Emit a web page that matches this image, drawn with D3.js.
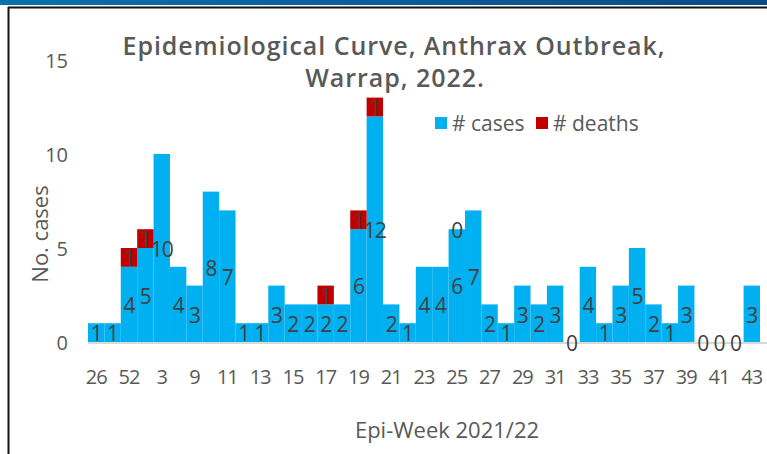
<!DOCTYPE html>
<html><head><meta charset="utf-8">
<script src="https://cdn.jsdelivr.net/npm/d3@7"></script>
<style>
html,body{margin:0;padding:0;background:#fff;}
svg{display:block;}
</style></head>
<body>
<svg id="chart" width="767" height="454"></svg>
<script>
// Epi-weeks (only every other one is labelled on the axis)
const weeks = ["26","27","52","1","3","5","9","10","11","12","13","14","15","16","17","18","19","20","21","22","23","24","25","26","27","28","29","30","31","32","33","34","35","36","37","38","39","40","41","42","43"];
const cases = [1,1,4,5,10,4,3,8,7,1,1,3,2,2,2,2,6,12,2,1,4,4,6,7,2,1,3,2,3,0,4,1,3,5,2,1,3,0,0,0,3];
const deaths = [null,null,1,1,null,null,null,null,null,null,null,null,null,null,1,null,1,1,null,null,null,null,0,null,null,null,null,null,null,null,null,null,null,null,null,null,null,null,null,null,null];
const yTicks = [0,5,10,15];
const seriesNames = ["# cases","# deaths"];
const colors = ["#00B0F0","#C00000"];

const svg = d3.select("#chart");
const W = 767, H = 454;
const font = "'Open Sans', sans-serif";
const grey = "#595959";

// frame
const grad = svg.append("defs").append("linearGradient").attr("id","g").attr("x1","0").attr("x2","1");
grad.append("stop").attr("offset","0").attr("stop-color","#0a6fb0");
grad.append("stop").attr("offset","1").attr("stop-color","#0a4a88");
svg.append("rect").attr("x",0).attr("y",0).attr("width",W).attr("height",5).attr("fill","url(#g)");
svg.append("line").attr("x1",8).attr("x2",W).attr("y1",7.5).attr("y2",7.5).attr("stroke","#111").attr("stroke-width",2);
svg.append("line").attr("x1",8.5).attr("x2",8.5).attr("y1",7).attr("y2",H).attr("stroke","#111").attr("stroke-width",2);

const x = d3.scaleBand().domain(d3.range(cases.length)).range([88, 760]).padding(0);
const y = d3.scaleLinear().domain([0,15]).range([342, 60]);

// bars
const g = svg.append("g");
g.selectAll("rect.c").data(cases).join("rect")
  .attr("x",(d,i)=>x(i)).attr("width",x.bandwidth())
  .attr("y",d=>y(d)).attr("height",d=>y(0)-y(d)).attr("fill",colors[0]);
g.selectAll("rect.d").data(deaths).join("rect")
  .attr("x",(d,i)=>x(i)).attr("width",x.bandwidth())
  .attr("y",(d,i)=>y(cases[i]+(d||0))).attr("height",(d,i)=>y(cases[i])-y(cases[i]+(d||0))).attr("fill",colors[1]);

// axis line
svg.append("line").attr("x1",88).attr("x2",767).attr("y1",y(0)+1).attr("y2",y(0)+1).attr("stroke","#d9d9d9").attr("stroke-width",2);

// y axis
const yAxis = d3.axisLeft(y).tickValues(yTicks).tickSize(0).tickPadding(0);
const ya = svg.append("g").attr("transform","translate(68,0)").call(yAxis);
ya.select(".domain").remove();
ya.selectAll("text").attr("font-family",font).attr("font-size",20).attr("fill",grey).attr("dy","0.35em");

// x axis
const xAxis = d3.axisBottom(x).tickValues(d3.range(0,cases.length,2)).tickFormat(i=>weeks[i]).tickSize(0).tickPadding(0);
const xa = svg.append("g").attr("transform",`translate(0,${y(0)+28})`).call(xAxis);
xa.select(".domain").remove();
xa.selectAll("text").attr("font-family",font).attr("font-size",20).attr("fill",grey).attr("dy","0.7em").attr("letter-spacing","-1px");

// data labels
const lab = svg.append("g").attr("font-family",font).attr("font-size",21).attr("fill","#404040").attr("text-anchor","middle").attr("letter-spacing","-1px");
lab.selectAll("text.c").data(cases).join("text")
  .attr("x",(d,i)=>x(i)+x.bandwidth()/2).attr("y",d=>(y(0)+y(d))/2).attr("dy","0.42em").text(d=>d);
lab.selectAll("text.d").data(deaths.map((d,i)=>({d,i})).filter(o=>o.d!==null)).join("text")
  .attr("x",o=>x(o.i)+x.bandwidth()/2).attr("y",o=>(y(cases[o.i])+y(cases[o.i]+o.d))/2).attr("dy","0.42em").text(o=>o.d);

// title
const t = svg.append("text").attr("font-family",font).attr("font-weight",600).attr("font-size",25).attr("fill",grey).attr("text-anchor","middle");
const t1 = t.append("tspan").attr("x",394).attr("y",55).text("Epidemiological Curve, Anthrax Outbreak,");
t.append("tspan").attr("x",395).attr("y",87).text("Warrap, 2022.");
const w1 = t1.node().getComputedTextLength();
const n1 = "Epidemiological Curve, Anthrax Outbreak,".length;
t.attr("letter-spacing", ((543 - w1) / n1) + "px");

// legend
const lg = svg.append("g").attr("font-family",font).attr("font-size",21).attr("fill",grey);
const lx = [435, 536];
seriesNames.forEach((n,k)=>{
  lg.append("rect").attr("x",lx[k]).attr("y",117).attr("width",12).attr("height",12).attr("fill",colors[k]);
  lg.append("text").attr("x",lx[k]+17).attr("y",131).text(n);
});

// axis titles
svg.append("text").attr("transform","translate(48,234) rotate(-90)").attr("text-anchor","middle")
  .attr("font-family",font).attr("font-size",22).attr("fill",grey).text("No. cases");
svg.append("text").attr("x",447).attr("y",438).attr("text-anchor","middle")
  .attr("font-family",font).attr("font-size",22).attr("fill",grey).text("Epi-Week 2021/22");
</script>
</body></html>
